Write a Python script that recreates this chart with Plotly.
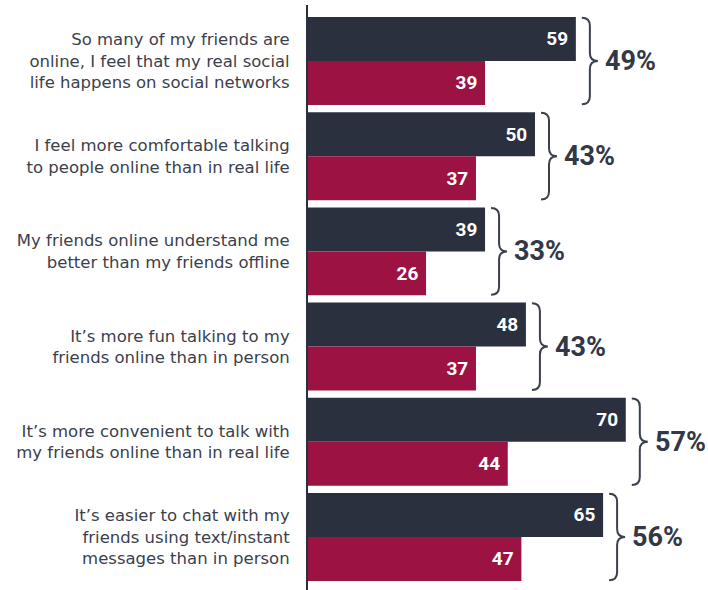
import plotly.graph_objects as go

# Statements (left-hand labels), top to bottom
statements = [
    "So many of my friends are<br>online, I feel that my real social<br>life happens on social networks",
    "I feel more comfortable talking<br>to people online than in real life",
    "My friends online understand me<br>better than my friends offline",
    "It\u2019s more fun talking to my<br>friends online than in person",
    "It\u2019s more convenient to talk with<br>my friends online than in real life",
    "It\u2019s easier to chat with my<br>friends using text/instant<br>messages than in person",
]
dark_values = [59, 50, 39, 48, 70, 65]
red_values = [39, 37, 26, 37, 44, 47]
overall_pct = [49, 43, 33, 43, 57, 56]

DARK = "#2b303f"
RED = "#9b1243"
TEXT = "#3b404c"
BRACE = "#3b404c"

positions = list(range(len(statements)))

fig = go.Figure()
for vals, color, name in [(dark_values, DARK, "Series A"), (red_values, RED, "Series B")]:
    fig.add_trace(go.Bar(
        x=vals, y=positions, orientation="h", name=name,
        marker=dict(color=color, line=dict(width=0)),
        texttemplate="%{x}\u00a0", textposition="inside", insidetextanchor="end",
        textfont=dict(family="Roboto", size=19, color="white", weight="bold"),
        showlegend=False, hoverinfo="skip",
    ))

# Curly braces and overall percentages to the right of each pair
PX_X = 4.54    # pixels per x unit
PX_Y = 95.2    # pixels per category
shapes = []
annotations = []
for i, (a, b, p) in enumerate(zip(dark_values, red_values, overall_pct)):
    x0 = max(a, b) + 6 / PX_X
    w = 16 / PX_X
    x1 = x0 + w / 2
    x2 = x0 + w
    yt = i - 0.455
    yb = i + 0.455
    r = 8 / PX_Y
    path = (
        f"M {x0},{yt} Q {x1},{yt} {x1},{yt + r} "
        f"L {x1},{i - r} Q {x1},{i} {x2},{i} "
        f"Q {x1},{i} {x1},{i + r} "
        f"L {x1},{yb - r} Q {x1},{yb} {x0},{yb}"
    )
    shapes.append(dict(type="path", path=path, xref="x", yref="y",
                       line=dict(color=BRACE, width=2)))
    annotations.append(dict(
        x=x2 + 5 / PX_X, y=i, xref="x", yref="y", xanchor="left", yanchor="middle",
        text=f"{p}%", showarrow=False,
        font=dict(family="Roboto", size=27, color="#333846", weight="bold"),
    ))

fig.update_layout(
    width=708, height=590,
    margin=dict(l=308, r=0, t=5, b=0),
    paper_bgcolor="white", plot_bgcolor="white",
    barmode="group", bargap=0.076, bargroupgap=0,
    shapes=shapes, annotations=annotations,
    xaxis=dict(range=[0, 400 / PX_X], visible=False, fixedrange=True),
    yaxis=dict(
        range=[5.557, -0.588],
        tickmode="array", tickvals=positions, ticktext=statements,
        showgrid=False, zeroline=False,
        showline=True, linecolor=DARK, linewidth=2,
        ticks="", ticklabelstandoff=13,
        tickfont=dict(family="DejaVu Sans", size=16.5, color=TEXT),
    ),
)

fig.write_html("out.html")
